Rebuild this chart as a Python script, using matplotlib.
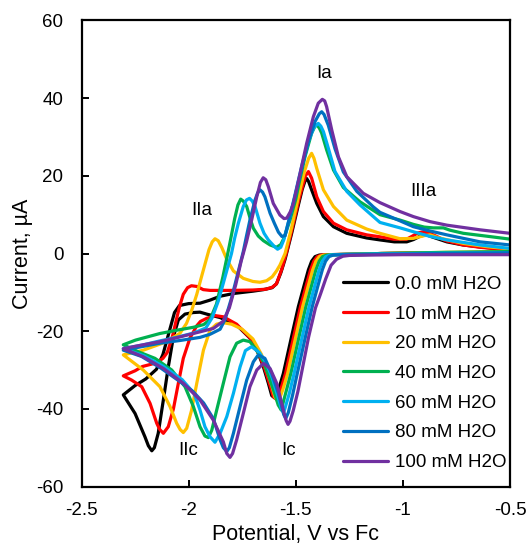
import matplotlib
matplotlib.use("Agg")
import matplotlib.pyplot as plt

plt.rcParams['font.family'] = ['Liberation Sans', 'DejaVu Sans']
plt.rcParams['axes.unicode_minus'] = False

# potential (V vs Fc) and current (uA); forward scan then return scan
v_0 = [-0.50, -0.80, -1.10, -1.25, -1.35, -1.39, -1.41, -1.426, -1.441, -1.46, -1.488, -1.52, -1.558, -1.58, -1.598,
       -1.612, -1.628, -1.651, -1.675, -1.714, -1.776, -1.853, -1.916, -1.947, -1.978, -2.017, -2.048, -2.071, -2.095,
       -2.118, -2.142, -2.16, -2.172, -2.188, -2.204, -2.25, -2.305,
       -2.25, -2.20, -2.15, -2.12, -2.09, -2.066, -2.043, -2.00, -1.947, -1.90, -1.853, -1.791, -1.70, -1.65, -1.61,
       -1.59, -1.57, -1.55, -1.52, -1.49, -1.47, -1.455, -1.449, -1.44, -1.426, -1.402, -1.371, -1.324, -1.262, -1.169,
       -1.107, -1.04, -0.982, -0.95, -0.919, -0.89, -0.86, -0.795, -0.72, -0.64, -0.50]
i_0 = [0.3, 0.2, 0.0, -0.2, -0.3, -0.4, -0.8, -2.0, -4.2, -8.0, -13.7, -21.5, -30.9, -35.0, -37.2,
       -36.6, -33.4, -29.2, -25.7, -21.8, -18.4, -16.5, -15.6, -15.1, -15.2, -15.6, -17.1, -21.4, -29.2,
       -37.7, -46.3, -50.0, -50.8, -49.5, -47.2, -41.2, -36.4,
       -34.0, -32.3, -29.8, -26.0, -20.0, -15.2, -13.4, -12.9, -12.8, -12.0, -11.0, -10.3, -9.7, -9.3, -8.8,
       -7.8, -5.0, -1.5, 5.0, 12.0, 16.5, 19.0, 19.3, 18.5, 16.4, 12.9, 9.5, 6.9, 5.2, 4.0,
       3.5, 3.0, 3.0, 3.6, 4.5, 4.8, 4.2, 3.0, 2.2, 1.7, 0.9]

v_10 = [-0.50, -0.80, -1.10, -1.25, -1.34, -1.38, -1.40, -1.416, -1.431, -1.45, -1.478, -1.51, -1.548, -1.57, -1.59,
        -1.605, -1.62, -1.645, -1.675, -1.714, -1.776, -1.838, -1.875, -1.916, -1.945, -1.962, -1.994, -2.025, -2.048,
        -2.071, -2.095, -2.118, -2.135, -2.149, -2.18, -2.219, -2.266, -2.305,
        -2.25, -2.216, -2.153, -2.12, -2.10, -2.085, -2.074, -2.055, -2.043, -2.025, -2.005, -1.987, -1.96, -1.932,
        -1.90, -1.80, -1.70, -1.64, -1.61, -1.59, -1.565, -1.54, -1.51, -1.48, -1.455, -1.441, -1.426, -1.402, -1.371,
        -1.324, -1.262, -1.169, -1.107, -1.045, -0.982, -0.955, -0.93, -0.904, -0.875, -0.858, -0.80, -0.718, -0.64,
        -0.50]
i_10 = [0.3, 0.2, 0.0, -0.2, -0.3, -0.4, -0.8, -2.0, -4.2, -8.0, -13.7, -21.5, -30.9, -35.0, -37.6,
        -36.8, -34.0, -29.6, -25.6, -21.7, -18.2, -16.3, -16.0, -16.7, -17.5, -18.6, -21.8, -27.0, -33.4,
        -40.0, -44.6, -46.3, -45.3, -43.7, -38.6, -34.3, -32.6, -31.5,
        -30.2, -29.1, -28.2, -27.0, -25.5, -23.0, -21.0, -16.5, -13.8, -10.5, -8.8, -8.3, -8.5, -9.3,
        -9.5, -9.5, -9.4, -9.2, -8.7, -7.8, -4.0, 1.0, 8.0, 15.0, 20.0, 21.1, 19.4, 14.6, 10.8,
        7.8, 6.1, 4.8, 4.3, 3.7, 3.7, 4.5, 5.3, 5.6, 5.2, 4.8, 3.3, 2.2, 1.6,
        0.9]

v_20 = [-0.50, -0.80, -1.10, -1.25, -1.33, -1.37, -1.39, -1.406, -1.421, -1.44, -1.468, -1.50, -1.538, -1.56, -1.582,
        -1.597, -1.612, -1.632, -1.66, -1.70, -1.75, -1.80, -1.84, -1.87, -1.90, -1.931, -1.962, -1.986, -2.009,
        -2.025, -2.04, -2.056, -2.087, -2.134, -2.212, -2.305,
        -2.212, -2.102, -2.04, -2.01, -1.985, -1.962, -1.94, -1.92, -1.905, -1.89, -1.877, -1.862, -1.845, -1.822,
        -1.791, -1.745, -1.70, -1.667, -1.636, -1.61, -1.59, -1.574, -1.55, -1.52, -1.49, -1.46, -1.44, -1.426,
        -1.415, -1.402, -1.371, -1.324, -1.262, -1.169, -1.107, -1.013, -0.951, -0.90, -0.873, -0.83, -0.718, -0.60,
        -0.50]
i_20 = [0.5, 0.3, 0.0, -0.2, -0.3, -0.4, -0.8, -2.0, -4.2, -8.0, -13.7, -21.5, -30.9, -35.0, -38.3,
        -37.0, -34.0, -30.5, -26.0, -22.0, -19.5, -18.2, -17.8, -18.2, -19.7, -24.9, -33.4, -40.3, -45.0,
        -46.1, -45.3, -43.7, -39.4, -34.3, -30.0, -26.1,
        -24.9, -22.7, -20.5, -18.0, -14.5, -10.5, -6.0, -2.0, 1.0, 3.0, 3.8, 3.3, 1.5, -1.5,
        -4.5, -6.4, -7.2, -7.4, -7.0, -6.0, -4.5, -3.0, 0.0, 6.5, 14.0, 21.0, 24.5, 25.8,
        24.5, 21.9, 16.4, 12.1, 8.6, 6.3, 5.2, 3.8, 3.9, 4.6, 4.8, 4.0, 2.6, 1.7,
        1.2]

v_40 = [-0.50, -0.80, -1.10, -1.25, -1.32, -1.355, -1.375, -1.391, -1.406, -1.425, -1.453, -1.485, -1.523, -1.545,
        -1.568, -1.582, -1.60, -1.628, -1.651, -1.682, -1.714, -1.745, -1.776, -1.807, -1.838, -1.869, -1.892,
        -1.908, -1.924, -1.947, -1.978, -2.017, -2.079, -2.157, -2.235, -2.305,
        -2.248, -2.134, -2.05, -1.978, -1.93, -1.90, -1.87, -1.84, -1.81, -1.785, -1.77, -1.757, -1.745, -1.729,
        -1.71, -1.698, -1.675, -1.651, -1.62, -1.59, -1.57, -1.554, -1.527, -1.50, -1.488, -1.457, -1.426, -1.41,
        -1.402, -1.39, -1.379, -1.356, -1.324, -1.278, -1.20, -1.107, -1.013, -0.951, -0.90, -0.858, -0.811, -0.78,
        -0.718, -0.60, -0.50]
i_40 = [0.5, 0.3, 0.0, -0.2, -0.3, -0.4, -0.8, -2.0, -4.2, -8.0, -13.7, -21.5, -30.9, -35.5,
        -40.3, -39.0, -35.8, -31.3, -27.9, -24.9, -22.7, -22.3, -23.1, -26.6, -33.4, -40.3, -45.5,
        -47.4, -47.0, -44.6, -39.4, -34.3, -30.0, -27.0, -25.3, -23.5,
        -22.3, -20.6, -19.7, -19.0, -18.3, -17.0, -13.0, -6.0, 2.0, 9.0, 12.5, 14.0, 13.5, 12.1,
        8.5, 6.5, 4.5, 3.3, 2.2, 1.6, 2.3, 4.1, 8.6, 14.0, 17.2, 24.9, 31.0, 32.8,
        33.1, 32.3, 31.0, 26.7, 21.5, 17.0, 13.3, 10.0, 8.6, 7.5, 6.8, 6.6, 6.6, 6.0,
        5.2, 4.4, 3.7]

v_60 = [-0.50, -0.80, -1.10, -1.25, -1.31, -1.34, -1.36, -1.376, -1.391, -1.41, -1.438, -1.47, -1.508, -1.53, -1.55,
        -1.557, -1.567, -1.58, -1.61, -1.64, -1.67, -1.706, -1.735, -1.76, -1.791, -1.822, -1.853, -1.877, -1.90,
        -1.924, -1.947, -1.975, -2.03, -2.12, -2.21, -2.305,
        -2.21, -2.134, -2.05, -1.978, -1.92, -1.89, -1.86, -1.83, -1.80, -1.785, -1.768, -1.745, -1.73, -1.716,
        -1.703, -1.69, -1.667, -1.648, -1.628, -1.60, -1.585, -1.57, -1.556, -1.53, -1.50, -1.47, -1.44, -1.415,
        -1.395, -1.383, -1.371, -1.348, -1.317, -1.262, -1.20, -1.107, -1.013, -0.951, -0.873, -0.795, -0.64, -0.50]
i_60 = [0.2, 0.1, -0.1, -0.2, -0.3, -0.4, -0.8, -2.0, -4.2, -8.0, -13.7, -21.5, -30.9, -36.0, -39.8,
        -41.0, -40.0, -37.5, -32.0, -28.0, -25.5, -24.0, -25.0, -29.2, -36.0, -42.0, -46.3, -48.6, -47.2,
        -44.6, -40.3, -36.0, -32.5, -29.0, -26.3, -24.5,
        -23.5, -22.5, -21.5, -20.5, -19.2, -16.5, -12.0, -6.0, 0.0, 4.0, 7.8, 12.1, 13.8, 14.2,
        13.5, 12.1, 7.8, 5.2, 3.5, 1.8, 1.1, 1.6, 3.5, 9.0, 16.0, 23.0, 29.0, 32.5,
        33.5, 32.8, 31.4, 27.1, 21.1, 16.0, 12.5, 8.0, 6.6, 5.6, 4.4, 3.5, 2.2, 1.3]

v_80 = [-0.50, -0.80, -1.10, -1.22, -1.29, -1.325, -1.345, -1.361, -1.376, -1.395, -1.423, -1.455, -1.493, -1.515,
        -1.535, -1.547, -1.556, -1.581, -1.612, -1.644, -1.675, -1.698, -1.729, -1.76, -1.791, -1.81, -1.822, -1.838,
        -1.853, -1.885, -1.93, -1.98, -2.04, -2.13, -2.22, -2.305,
        -2.22, -2.134, -2.04, -1.947, -1.90, -1.853, -1.83, -1.80, -1.77, -1.745, -1.73, -1.714, -1.69, -1.678,
        -1.667, -1.655, -1.644, -1.62, -1.60, -1.581, -1.565, -1.55, -1.53, -1.50, -1.47, -1.44, -1.41, -1.39,
        -1.379, -1.368, -1.348, -1.317, -1.278, -1.215, -1.138, -1.107, -1.013, -0.951, -0.873, -0.795, -0.64, -0.50]
i_80 = [0.2, 0.0, -0.2, -0.3, -0.35, -0.4, -0.8, -2.0, -4.2, -8.0, -13.7, -21.5, -30.9, -36.5,
        -41.0, -42.5, -41.5, -36.0, -30.9, -27.0, -26.1, -27.9, -32.6, -39.4, -46.3, -50.0, -51.0, -50.0,
        -48.0, -42.5, -38.5, -35.5, -33.0, -29.5, -26.5, -24.9,
        -24.0, -23.1, -22.4, -21.6, -20.8, -19.5, -17.0, -11.5, -5.0, 0.5, 4.5, 8.6, 13.8, 15.6,
        16.4, 15.8, 14.6, 10.4, 7.8, 5.5, 4.4, 4.6, 9.0, 15.5, 22.5, 29.0, 34.0, 36.0,
        36.5, 35.8, 33.0, 27.0, 21.0, 16.0, 12.0, 10.6, 8.4, 6.9, 5.8, 4.8, 3.0, 2.2]

v_100 = [-0.50, -0.80, -1.00, -1.15, -1.25, -1.28, -1.31, -1.335, -1.36, -1.385, -1.408, -1.44, -1.465, -1.49,
         -1.512, -1.527, -1.536, -1.545, -1.558, -1.589, -1.62, -1.651, -1.682, -1.714, -1.745, -1.776, -1.795,
         -1.807, -1.822, -1.838, -1.885, -1.947, -2.025, -2.118, -2.212, -2.305,
         -2.212, -2.134, -2.05, -1.978, -1.885, -1.84, -1.81, -1.78, -1.755, -1.73, -1.706, -1.682, -1.665, -1.652,
         -1.64, -1.628, -1.605, -1.574, -1.555, -1.542, -1.525, -1.511, -1.48, -1.449, -1.418, -1.395, -1.376,
         -1.365, -1.356, -1.332, -1.301, -1.262, -1.185, -1.107, -1.013, -0.951, -0.873, -0.795, -0.64, -0.50]
i_100 = [-0.3, -0.3, -0.3, -0.4, -0.5, -0.7, -1.5, -3.0, -6.5, -10.5, -14.0, -21.5, -28.5, -35.5,
         -40.5, -43.2, -44.0, -43.0, -40.3, -33.4, -29.6, -28.3, -30.0, -34.3, -41.2, -48.0, -51.5,
         -52.5, -51.5, -48.5, -42.9, -37.7, -33.4, -29.6, -26.6, -24.5,
         -23.5, -22.7, -21.6, -20.6, -19.3, -17.5, -14.0, -8.0, -2.0, 3.0, 8.6, 14.6, 18.3, 19.5,
         19.0, 17.2, 12.9, 9.9, 9.0, 9.1, 10.8, 12.9, 20.6, 28.4, 35.2, 38.7, 39.7,
         39.3, 37.8, 31.8, 24.9, 19.8, 15.5, 13.1, 10.8, 9.5, 8.2, 7.3, 6.1, 5.2]

labels = ["0.0 mM H2O", "10 mM H2O", "20 mM H2O", "40 mM H2O", "60 mM H2O", "80 mM H2O", "100 mM H2O"]
colors = ["#000000", "#FF0000", "#FFC000", "#00B050", "#00B0F0", "#0070C0", "#7030A0"]
series = [(v_0, i_0), (v_10, i_10), (v_20, i_20), (v_40, i_40), (v_60, i_60), (v_80, i_80), (v_100, i_100)]

peak_names = ["Ia", "IIa", "IIIa", "IIc", "Ic"]
peak_v = [-1.368, -1.937, -0.904, -2.003, -1.533]
peak_i = [46.4, 11.0, 15.9, -50.7, -50.7]

fig = plt.figure(figsize=(5.3, 5.48), dpi=100)
ax = fig.add_axes([0.1538, 0.1122, 0.8085, 0.8504])

for (v, i), lab, c in zip(series, labels, colors):
    ax.plot(v, i, color=c, lw=2.3, label=lab, solid_joinstyle='round', solid_capstyle='round')

for name, x, y in zip(peak_names, peak_v, peak_i):
    ax.text(x, y, name, fontsize=13.5, ha='center', va='center')

ax.set_xlim(-2.5, -0.5)
ax.set_ylim(-60, 60)
ax.set_xticks([-2.5, -2, -1.5, -1, -0.5])
ax.set_xticklabels(["-2.5", "-2", "-1.5", "-1", "-0.5"])
ax.set_yticks([-60, -40, -20, 0, 20, 40, 60])
for s in ax.spines.values():
    s.set_linewidth(1.6)
ax.tick_params(direction='in', length=5, width=1.4, labelsize=13.5)
ax.tick_params(axis='x', pad=11)
ax.tick_params(axis='y', pad=13)
ax.set_xlabel("Potential, V vs Fc", fontsize=15.5, labelpad=4)
ax.set_ylabel("Current, \u00b5A", fontsize=15.5, labelpad=2)

ax.legend(loc='upper left', bbox_to_anchor=(0.61, 0.452), frameon=False, fontsize=13.5,
          handlelength=2.43, handletextpad=0.33, labelspacing=0.67, borderpad=0, borderaxespad=0)

fig.savefig("out.png", dpi=100)
